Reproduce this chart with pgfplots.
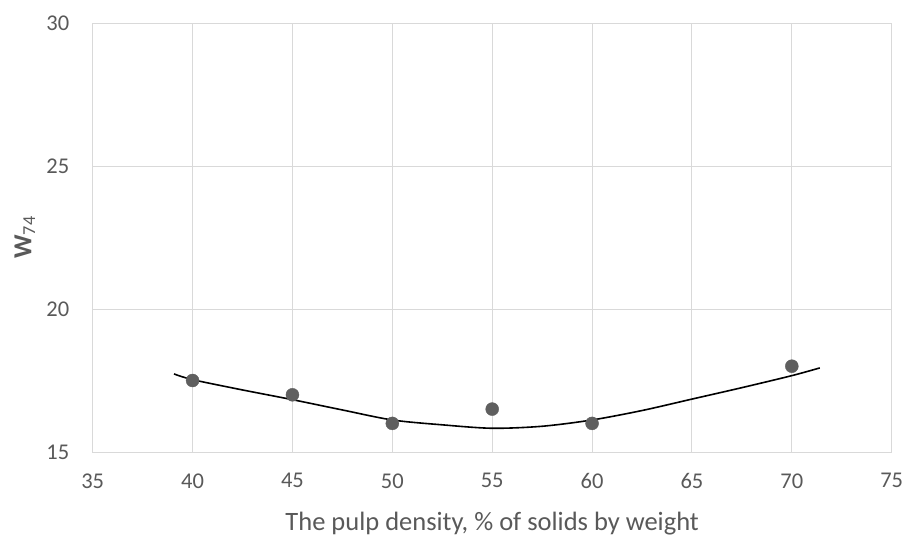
\documentclass[border=0pt]{standalone}
\usepackage{pgfplots}
\pgfplotsset{compat=1.18}
\usepackage{fontspec}
\setmainfont{Carlito}
\definecolor{tickgray}{HTML}{595959}
\definecolor{gridgray}{HTML}{D9D9D9}
\definecolor{markgray}{HTML}{5F5F5F}
\begin{document}
\begin{tikzpicture}[x=1pt,y=1pt]
\begin{axis}[
  at={(0,0)}, anchor=south west,
  scale only axis,
  width=799pt, height=429pt,
  xmin=35, xmax=75, ymin=15, ymax=30,
  xtick={35,40,...,75}, ytick={15,20,25,30},
  grid=major,
  major grid style={gridgray, line width=1pt},
  axis line style={gridgray, line width=1pt},
  tick style={draw=none},
  /pgf/number format/assume math mode=true,
  tick label style={font=\fontsize{22.5}{26}\selectfont, text=tickgray},
  yticklabel style={xshift=-20pt},
  xticklabel style={yshift=-18pt},
  xlabel={The pulp density, \% of solids by weight},
  ylabel={\textbf{W}\textsubscript{74}},
  xlabel style={font=\fontsize{26.5}{30}\selectfont, text=tickgray, at={(axis description cs:0.5,-0.167)}, anchor=center},
  ylabel style={font=\fontsize{26}{30}\selectfont, text=tickgray, at={(axis description cs:-0.0851,0.5)}, anchor=center},
]
\addplot[black, line width=1.6pt, smooth, no marks] coordinates {
(39.07,17.73) (40,17.53) (42.5,17.17) (45,16.83) (47.5,16.47) (50,16.12)
(52.5,15.95) (55,15.83) (57.5,15.90) (60,16.12) (62.5,16.45) (65,16.85)
(67.5,17.25) (70,17.67) (71.4,17.94)
};
\addplot[only marks, mark=*, mark size=6.5pt, mark options={fill=markgray, draw=markgray}] coordinates {
(40,17.5) (45,17.0) (50,16.0) (55,16.5) (60,16.0) (70,18.0)
};
\end{axis}
\pgfresetboundingbox
\path[use as bounding box] (-92.7pt,-87pt) rectangle (815.3pt,452pt);
\end{tikzpicture}
\end{document}
